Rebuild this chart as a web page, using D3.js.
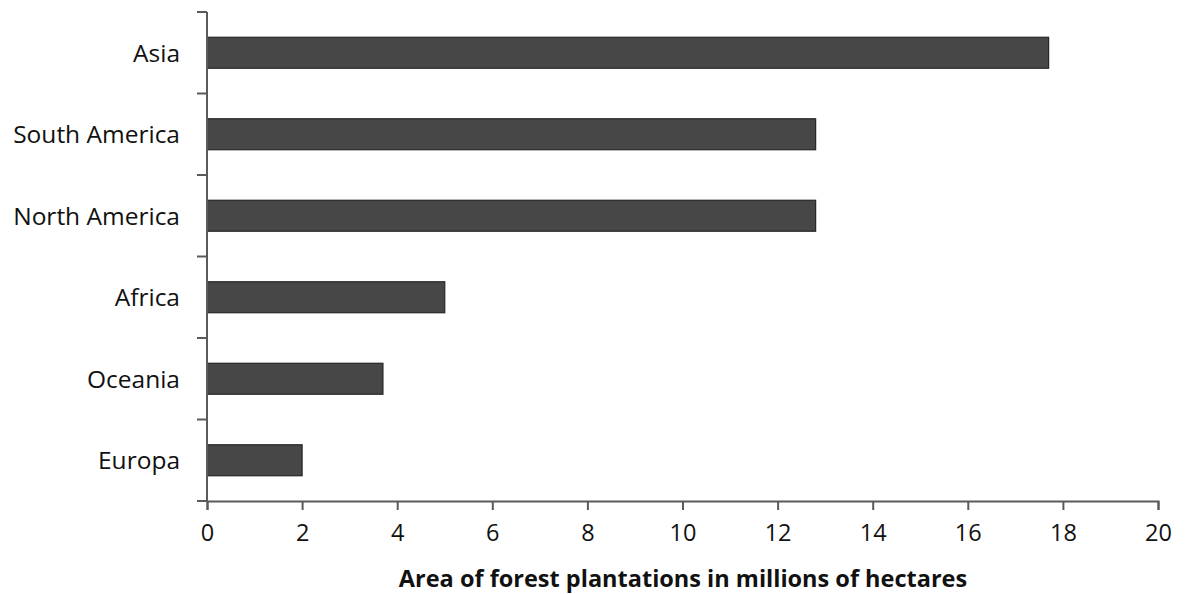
<!DOCTYPE html>
<html>
<head>
<meta charset="utf-8">
<script src="https://cdn.jsdelivr.net/npm/d3@7"></script>
<style>
  html, body { margin: 0; padding: 0; background: #fff; }
  svg { display: block; }
  text { font-family: "Open Sans", Lato, sans-serif; fill: #111; }
</style>
</head>
<body>
<svg id="chart" width="1190" height="594"></svg>
<script>
// Forest plantation area by region (millions of hectares)
const regions = ["Asia", "South America", "North America", "Africa", "Oceania", "Europa"];
const areas = [17.7, 12.8, 12.8, 5.0, 3.7, 2.0];
const xTicks = [0, 2, 4, 6, 8, 10, 12, 14, 16, 18, 20];
const xTitle = "Area of forest plantations in millions of hectares";

const svg = d3.select("#chart");
const plot = { left: 207, right: 1158, top: 12, bottom: 501 };

const x = d3.scaleLinear().domain([0, 20]).range([plot.left, plot.right]);
const y = d3.scaleBand().domain(regions).range([plot.top, plot.bottom]).paddingInner(0.62).paddingOuter(0.31);

const axisColor = "#5a5a5a";

// bars
svg.append("g").selectAll("rect")
  .data(regions.map((r, i) => ({ r, v: areas[i] })))
  .join("rect")
  .attr("x", x(0))
  .attr("y", d => y(d.r))
  .attr("width", d => x(d.v) - x(0))
  .attr("height", y.bandwidth())
  .attr("fill", "#474747")
  .attr("stroke", "#262626")
  .attr("stroke-width", 1.2);

// y axis: line with ticks between categories
const yAxis = svg.append("g");
yAxis.append("line")
  .attr("x1", plot.left).attr("x2", plot.left)
  .attr("y1", plot.top).attr("y2", plot.bottom)
  .attr("stroke", axisColor).attr("stroke-width", 2);
const step = (plot.bottom - plot.top) / regions.length;
yAxis.selectAll("line.tick")
  .data(d3.range(regions.length + 1))
  .join("line")
  .attr("class", "tick")
  .attr("x1", plot.left - 10).attr("x2", plot.left)
  .attr("y1", i => plot.top + i * step).attr("y2", i => plot.top + i * step)
  .attr("stroke", axisColor).attr("stroke-width", 2);
yAxis.selectAll("text")
  .data(regions)
  .join("text")
  .attr("x", 180)
  .attr("y", d => y(d) + y.bandwidth() / 2)
  .attr("dy", "0.36em")
  .attr("text-anchor", "end")
  .attr("font-size", 24.5)
  .text(d => d);

// x axis
const xAxis = svg.append("g").attr("transform", `translate(0,${plot.bottom})`)
  .call(d3.axisBottom(x).tickValues(xTicks).tickFormat(d3.format("d")).tickSizeOuter(0).tickSize(9).tickPadding(14));
xAxis.select(".domain").attr("stroke", axisColor).attr("stroke-width", 2);
xAxis.selectAll(".tick line").attr("stroke", axisColor).attr("stroke-width", 2);
xAxis.selectAll(".tick text")
  .attr("font-size", 23.5)
  .attr("font-family", "'Open Sans', Lato, sans-serif")
  .attr("fill", "#111");

svg.append("text")
  .attr("x", 683)
  .attr("y", 587)
  .attr("text-anchor", "middle")
  .attr("font-size", 23.5)
  .attr("font-weight", "bold")
  .text(xTitle);
</script>
</body>
</html>
